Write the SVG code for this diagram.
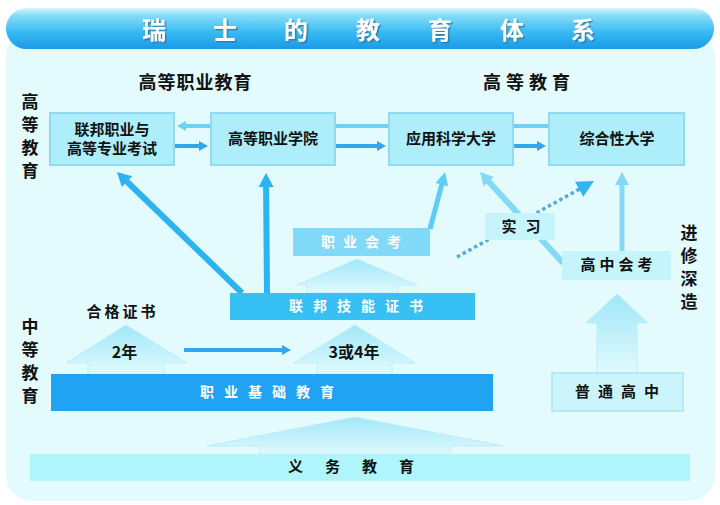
<svg xmlns="http://www.w3.org/2000/svg" width="720" height="505" viewBox="0 0 720 505">
<style>
text{font-family:"Noto Sans CJK SC","Noto Sans",sans-serif;font-weight:bold;fill:#111;}
.title{font-size:24px;fill:#fff;}
.lbl15{font-size:15px;text-anchor:middle;}
.head{font-size:18px;text-anchor:middle;}
.vert{font-size:17px;text-anchor:middle;}
.wt{fill:#fff;font-size:14px;text-anchor:middle;}
.topbox{fill:#aeeefb;stroke:#90dbf3;stroke-width:2;}
.block{fill:url(#gBlock);stroke:#bcedf8;stroke-width:1;}
.lnUp{stroke:#6fd0f5;stroke-width:4;fill:none;}
.lnDn{stroke:#2ea9ee;stroke-width:4;fill:none;}
</style>
<defs>
<linearGradient id="gTitle" x1="0" y1="0" x2="0" y2="1">
<stop offset="0" stop-color="#d6f7fe"/>
<stop offset="0.18" stop-color="#86dcf8"/>
<stop offset="0.6" stop-color="#36b9f2"/>
<stop offset="1" stop-color="#1b9ae6"/>
</linearGradient>
<linearGradient id="gBlock" x1="0" y1="0" x2="0" y2="1">
<stop offset="0" stop-color="#a0e7f8"/>
<stop offset="1" stop-color="#e0fafd"/>
</linearGradient>
<filter id="fShadow" x="-20%" y="-20%" width="140%" height="140%">
<feDropShadow dx="1.5" dy="1.5" stdDeviation="0.6" flood-color="#2f6f96" flood-opacity="0.75"/>
</filter>
<marker id="mUp" markerUnits="userSpaceOnUse" markerWidth="9" markerHeight="10" refX="1" refY="5" orient="auto" overflow="visible"><path d="M0,0 L9,5 L0,10 z" fill="#6fd0f5"/></marker>
<marker id="mDn" markerUnits="userSpaceOnUse" markerWidth="9" markerHeight="10" refX="1" refY="5" orient="auto" overflow="visible"><path d="M0,0 L9,5 L0,10 z" fill="#2ea9ee"/></marker>
<marker id="mThick" markerUnits="userSpaceOnUse" markerWidth="14" markerHeight="15" refX="1" refY="7.5" orient="auto" overflow="visible"><path d="M0,0 L14,7.5 L0,15 z" fill="#2db4f0"/></marker>
<marker id="mMid" markerUnits="userSpaceOnUse" markerWidth="13" markerHeight="13" refX="1" refY="6.5" orient="auto" overflow="visible"><path d="M0,0 L13,6.5 L0,13 z" fill="#5ccdf4"/></marker>
<marker id="mLight" markerUnits="userSpaceOnUse" markerWidth="13" markerHeight="14" refX="1" refY="7" orient="auto" overflow="visible"><path d="M0,0 L13,7 L0,14 z" fill="#86d9f4"/></marker>
<marker id="mDot" markerUnits="userSpaceOnUse" markerWidth="17" markerHeight="17" refX="1" refY="8.5" orient="auto" overflow="visible"><path d="M0,0 L17,8.5 L0,17 z" fill="#33b5ef"/></marker>
</defs>

<rect x="0" y="0" width="720" height="505" fill="#ffffff"/>
<rect id="panel" x="6" y="30" width="709" height="471" rx="26" fill="#e3fbfd"/>

<g id="title">
<rect x="6" y="8" width="708" height="41" rx="20.5" fill="url(#gTitle)"/>
<text class="title" x="154 225 296 368 440 512 583" y="39" text-anchor="middle" filter="url(#fShadow)">瑞士的教育体系</text>
</g>

<g id="block-arrows">
<polygon class="block" points="88,374 88,363 66,363 126,325 187,363 164,363 164,374"/>
<polygon class="block" points="317,374 317,363 294,363 355,325 415,363 392,363 392,374"/>
<polygon class="block" points="307,293 307,285 297,285 357,259 417,285 398,285 398,293"/>
<polygon class="block" points="597,373 597,323 586,323 617,294 648,323 637,323 637,373"/>
<polygon class="block" points="260,454 260,446 207,446 355,417 503,446 450,446 450,454"/>
</g>

<g id="section-labels">
<text class="head" x="195.5" y="89" letter-spacing="1">高等职业教育</text>
<text class="head" x="529" y="89" letter-spacing="5">高等教育</text>
<text class="vert" x="30" y="108">高</text>
<text class="vert" x="30" y="131">等</text>
<text class="vert" x="30" y="154">教</text>
<text class="vert" x="30" y="177">育</text>
<text class="vert" x="30" y="333">中</text>
<text class="vert" x="30" y="356">等</text>
<text class="vert" x="30" y="379">教</text>
<text class="vert" x="30" y="402">育</text>
<text class="vert" x="689" y="239">进</text>
<text class="vert" x="689" y="262">修</text>
<text class="vert" x="689" y="285">深</text>
<text class="vert" x="689" y="308">造</text>
<text class="lbl15" x="122.5" y="317" letter-spacing="3">合格证书</text>
<text x="124.5" y="358" font-size="16" text-anchor="middle">2年</text>
<text x="354" y="358" font-size="16" text-anchor="middle">3或4年</text>
</g>

<g id="connectors">
<line class="lnUp" x1="211" y1="126" x2="185" y2="126" marker-end="url(#mUp)"/>
<line class="lnDn" x1="174" y1="146" x2="200" y2="146" marker-end="url(#mDn)"/>
<line class="lnUp" x1="335" y1="126" x2="389" y2="126"/>
<line class="lnDn" x1="335" y1="146" x2="378" y2="146" marker-end="url(#mDn)"/>
<line class="lnUp" x1="513" y1="126" x2="549" y2="126"/>
<line class="lnDn" x1="513" y1="146" x2="538" y2="146" marker-end="url(#mDn)"/>
<line x1="242" y1="293" x2="126.3" y2="181" stroke="#2db4f0" stroke-width="6" marker-end="url(#mThick)"/>
<line x1="267" y1="293" x2="266.1" y2="186" stroke="#2db4f0" stroke-width="6" marker-end="url(#mThick)"/>
<line x1="430" y1="229" x2="442" y2="183.6" stroke="#5ccdf4" stroke-width="5" marker-end="url(#mMid)"/>
<line x1="563" y1="263" x2="488.1" y2="180.9" stroke="#86d9f4" stroke-width="6" marker-end="url(#mLight)"/>
<line x1="457" y1="257" x2="580" y2="188.8" stroke="#57acd6" stroke-width="3.5" stroke-dasharray="3.5 3" marker-end="url(#mDot)"/>
<line x1="622" y1="251" x2="622" y2="184" stroke="#86d9f4" stroke-width="5" marker-end="url(#mLight)"/>
<line class="lnDn" x1="184" y1="350" x2="283" y2="350" marker-end="url(#mDn)"/>
</g>

<g id="node-exam">
<rect class="topbox" x="50" y="113" width="124" height="52"/>
<text class="lbl15" x="112" y="135">联邦职业与</text>
<text class="lbl15" x="112" y="154">高等专业考试</text>
</g>
<g id="node-college">
<rect class="topbox" x="211" y="113" width="124" height="52"/>
<text class="lbl15" x="273" y="144">高等职业学院</text>
</g>
<g id="node-uas">
<rect class="topbox" x="389" y="113" width="124" height="52"/>
<text class="lbl15" x="451" y="144">应用科学大学</text>
</g>
<g id="node-univ">
<rect class="topbox" x="549" y="113" width="135" height="52"/>
<text class="lbl15" x="617" y="144">综合性大学</text>
</g>
<g id="node-vocexam">
<rect x="293" y="228" width="137" height="28" fill="#80d9f7"/>
<text class="wt" x="365" y="247" letter-spacing="8">职业会考</text>
</g>
<g id="node-intern">
<rect x="485" y="213" width="70" height="27" fill="#c6f4fc"/>
<text class="lbl15" x="525.5" y="232" letter-spacing="9">实习</text>
</g>
<g id="node-hsexam">
<rect x="562" y="251" width="109" height="29" fill="#c6f4fc"/>
<text class="lbl15" x="618.5" y="270" letter-spacing="4">高中会考</text>
</g>
<g id="node-fedcert">
<rect x="230" y="293" width="245" height="27" fill="#36c0f4"/>
<text class="wt" x="361" y="311" letter-spacing="10">联邦技能证书</text>
</g>
<g id="node-vocbasic">
<rect x="51" y="374" width="442" height="37" fill="#1fa3f2"/>
<text class="wt" x="272" y="397" letter-spacing="10">职业基础教育</text>
</g>
<g id="node-gymnasium">
<rect x="552" y="373" width="131" height="38" fill="#cbf5fb" stroke="#a9e4f2" stroke-width="1.5"/>
<text class="lbl15" x="621" y="397" letter-spacing="8">普通高中</text>
</g>
<g id="node-compulsory">
<rect x="30" y="454" width="660" height="27" fill="#aff5fb"/>
<text class="lbl15" x="362" y="472" letter-spacing="22">义务教育</text>
</g>
</svg>
